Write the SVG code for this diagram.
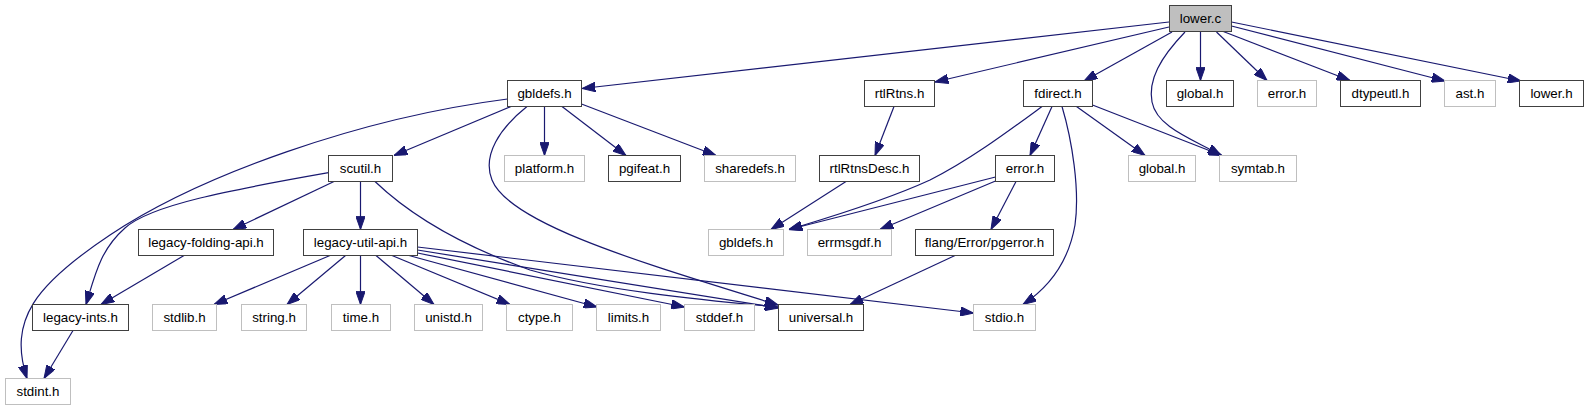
<svg xmlns="http://www.w3.org/2000/svg" width="1588" height="411" viewBox="0 0 1588 411">
<defs>
<style>
.n rect{fill:#fff;stroke:#404040;stroke-width:1}
.n.g rect{stroke:#bfbfbf}
.n.r rect{fill:#bfbfbf}
text{font-family:"Liberation Sans",Arial,Helvetica,sans-serif;font-size:13.33px;text-anchor:middle;fill:#000}
#edges path{fill:none;stroke:#191970;stroke-width:1.2;marker-end:url(#a)}
</style>
<marker id="a" viewBox="0 0 13.3 9.4" refX="13.3" refY="4.7" markerWidth="13.3" markerHeight="9.4" markerUnits="userSpaceOnUse" orient="auto">
<path d="M0,0 L13.3,4.7 L0,9.4 Z" fill="#191970" stroke="#191970" stroke-width="1"/>
</marker>
</defs>
<rect width="1588" height="411" fill="#fff"/>
<g id="edges">
<path d="M1169,22 L582,88.5"/>
<path d="M1169,27 L935,82"/>
<path d="M1172,32 L1084,81"/>
<path d="M1185,32 C1160,58 1148,80 1152,102 C1157,128 1195,140 1221,155.5"/>
<path d="M1200.5,32 L1200.5,80.5"/>
<path d="M1216.5,32 L1267,80.5"/>
<path d="M1222,31 L1350,80.5"/>
<path d="M1231.5,26 L1445,81"/>
<path d="M1231.5,22 L1521,81"/>
<path d="M507.5,99 C360,118 200,175 110,235 C35,285 8,320 27,378.5"/>
<path d="M511,106.5 L394,155.5"/>
<path d="M527,106.5 C500,128 482,155 492,180 C510,225 650,265 778,305"/>
<path d="M544.5,106.5 L544.5,155.5"/>
<path d="M562,106.5 L626,155.5"/>
<path d="M581.5,104 L716,155.5"/>
<path d="M894,106.5 L875,155.5"/>
<path d="M1042,106.5 C1010,130 970,160 930,180 C880,203 820,220 789,229.5"/>
<path d="M1052,106.5 L1030,155.5"/>
<path d="M1062,106.5 C1072,140 1080,190 1075,225 C1068,265 1045,290 1023,304.5"/>
<path d="M1076.5,106.5 L1145,155.5"/>
<path d="M1092.5,105 L1222,155.5"/>
<path d="M995.5,177 L789,229.5"/>
<path d="M995.5,181 L880,229.5"/>
<path d="M1016,181.5 L991,229.5"/>
<path d="M846,181.5 L771,229.5"/>
<path d="M955,255.5 L850,304.5"/>
<path d="M328.5,172.7 C230,190 150,205 125,228 C100,250 95,275 86,304.5"/>
<path d="M334,181.5 L233,229.5"/>
<path d="M360.5,181.5 L360.5,229.5"/>
<path d="M375,181.5 C410,215 460,245 530,270 C600,290 700,300 778,307"/>
<path d="M184,255.5 L101,304.5"/>
<path d="M73,330.5 L44,378.5"/>
<path d="M330,255.5 L214,304.5"/>
<path d="M345.5,255.5 L287,304.5"/>
<path d="M360.5,255.5 L360.5,304.5"/>
<path d="M376,255.5 L434,304.5"/>
<path d="M392,255.5 L510,304.5"/>
<path d="M409,255.5 L597,307"/>
<path d="M417.5,253 L684.5,307"/>
<path d="M417.5,250 L778.5,308"/>
<path d="M417.5,247 L973.5,313"/>
</g>
<g id="lower_c" class="n r"><rect x="1169.5" y="5.5" width="62" height="26"/><text x="1200.5" y="23">lower.c</text></g>
<g id="gbldefs_h" class="n"><rect x="507.5" y="80.5" width="74" height="26"/><text x="544.5" y="98">gbldefs.h</text></g>
<g id="rtlRtns_h" class="n"><rect x="864.5" y="80.5" width="70" height="26"/><text x="899.5" y="98">rtlRtns.h</text></g>
<g id="fdirect_h" class="n"><rect x="1023.5" y="80.5" width="69" height="26"/><text x="1058" y="98">fdirect.h</text></g>
<g id="global_h" class="n"><rect x="1166.5" y="80.5" width="67" height="26"/><text x="1200" y="98">global.h</text></g>
<g id="error_h_sys" class="n g"><rect x="1257.5" y="80.5" width="59" height="26"/><text x="1287" y="98">error.h</text></g>
<g id="dtypeutl_h" class="n"><rect x="1340.5" y="80.5" width="80" height="26"/><text x="1380.5" y="98">dtypeutl.h</text></g>
<g id="ast_h" class="n g"><rect x="1444.5" y="80.5" width="51" height="26"/><text x="1470" y="98">ast.h</text></g>
<g id="lower_h" class="n"><rect x="1519.5" y="80.5" width="64" height="26"/><text x="1551.5" y="98">lower.h</text></g>
<g id="scutil_h" class="n"><rect x="328.5" y="155.5" width="64" height="26"/><text x="360.5" y="173">scutil.h</text></g>
<g id="platform_h" class="n g"><rect x="504.5" y="155.5" width="80" height="26"/><text x="544.5" y="173">platform.h</text></g>
<g id="pgifeat_h" class="n"><rect x="608.5" y="155.5" width="72" height="26"/><text x="644.5" y="173">pgifeat.h</text></g>
<g id="sharedefs_h" class="n g"><rect x="704.5" y="155.5" width="91" height="26"/><text x="750" y="173">sharedefs.h</text></g>
<g id="rtlRtnsDesc_h" class="n"><rect x="819.5" y="155.5" width="100" height="26"/><text x="869.5" y="173">rtlRtnsDesc.h</text></g>
<g id="error_h" class="n"><rect x="995.5" y="155.5" width="59" height="26"/><text x="1025" y="173">error.h</text></g>
<g id="global_h_sys" class="n g"><rect x="1128.5" y="155.5" width="67" height="26"/><text x="1162" y="173">global.h</text></g>
<g id="symtab_h" class="n g"><rect x="1219.5" y="155.5" width="77" height="26"/><text x="1258" y="173">symtab.h</text></g>
<g id="legacy_folding_api_h" class="n"><rect x="138.5" y="229.5" width="135" height="26"/><text x="206" y="247">legacy-folding-api.h</text></g>
<g id="legacy_util_api_h" class="n"><rect x="303.5" y="229.5" width="114" height="26"/><text x="360.5" y="247">legacy-util-api.h</text></g>
<g id="gbldefs_h_sys" class="n g"><rect x="708.5" y="229.5" width="75" height="26"/><text x="746" y="247">gbldefs.h</text></g>
<g id="errmsgdf_h" class="n g"><rect x="807.5" y="229.5" width="84" height="26"/><text x="849.5" y="247">errmsgdf.h</text></g>
<g id="pgerror_h" class="n"><rect x="915.5" y="229.5" width="138" height="26"/><text x="984.5" y="247">flang/Error/pgerror.h</text></g>
<g id="legacy_ints_h" class="n"><rect x="32.5" y="304.5" width="96" height="26"/><text x="80.5" y="322">legacy-ints.h</text></g>
<g id="stdlib_h" class="n g"><rect x="152.5" y="304.5" width="64" height="26"/><text x="184.5" y="322">stdlib.h</text></g>
<g id="string_h" class="n g"><rect x="241.5" y="304.5" width="65" height="26"/><text x="274" y="322">string.h</text></g>
<g id="time_h" class="n g"><rect x="331.5" y="304.5" width="59" height="26"/><text x="361" y="322">time.h</text></g>
<g id="unistd_h" class="n g"><rect x="414.5" y="304.5" width="68" height="26"/><text x="448.5" y="322">unistd.h</text></g>
<g id="ctype_h" class="n g"><rect x="506.5" y="304.5" width="66" height="26"/><text x="539.5" y="322">ctype.h</text></g>
<g id="limits_h" class="n g"><rect x="596.5" y="304.5" width="64" height="26"/><text x="628.5" y="322">limits.h</text></g>
<g id="stddef_h" class="n g"><rect x="684.5" y="304.5" width="70" height="26"/><text x="719.5" y="322">stddef.h</text></g>
<g id="universal_h" class="n"><rect x="778.5" y="304.5" width="85" height="26"/><text x="821" y="322">universal.h</text></g>
<g id="stdio_h" class="n g"><rect x="973.5" y="304.5" width="62" height="26"/><text x="1004.5" y="322">stdio.h</text></g>
<g id="stdint_h" class="n g"><rect x="5.5" y="378.5" width="65" height="26"/><text x="38" y="396">stdint.h</text></g>
</svg>
